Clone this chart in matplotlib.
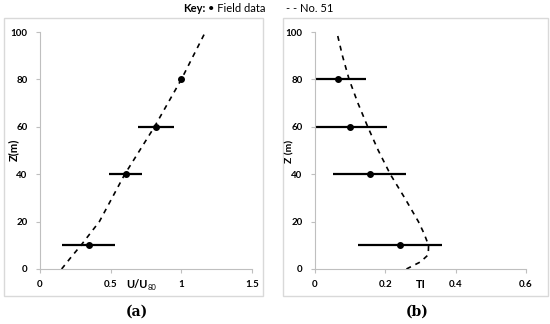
import matplotlib
matplotlib.use("Agg")
import matplotlib.pyplot as plt
from matplotlib.patches import Rectangle

# -------------------------------------------------------------------
# Data
# -------------------------------------------------------------------
# (a) normalised wind speed
z_field = [10, 40, 60, 80]
u_field = [0.344, 0.605, 0.82, 1.0]
u_err = [0.19, 0.12, 0.13, 0.0]

z_model = [0, 5, 10, 20, 30, 40, 50, 60, 70, 80, 90, 100]
u_model = [0.153, 0.22, 0.29, 0.42, 0.51, 0.60, 0.705, 0.81, 0.905, 1.0, 1.085, 1.17]

# (b) turbulence intensity
ti_field = [0.242, 0.155, 0.10, 0.066]
ti_err = [0.12, 0.105, 0.104, 0.078]

z_ti_model = [0, 3, 6, 10, 15, 20, 30, 40, 50, 60, 70, 80, 90, 100]
ti_model = [0.26, 0.30, 0.322, 0.323, 0.31, 0.294, 0.255, 0.214, 0.18, 0.150,
            0.122, 0.097, 0.078, 0.062]

yticks = [0, 20, 40, 60, 80, 100]
xticks_a = [0, 0.5, 1, 1.5]
xticks_b = [0, 0.2, 0.4, 0.6]
xticklabels_a = ["0", "0.5", "1", "1.5"]
xticklabels_b = ["0", "0.2", "0.4", "0.6"]

plt.rcParams['font.family'] = ['Lato', 'DejaVu Sans']

W, H = 550, 324
fig = plt.figure(figsize=(W / 100, H / 100), dpi=100)

grey = "#d9d9d9"
axis_grey = "#bfbfbf"

# chart area frames
for x0, x1 in [(4, 263), (283, 548)]:
    fig.patches.append(Rectangle((x0 / W, 1 - 296 / H), (x1 - x0) / W, (296 - 18) / H,
                                 transform=fig.transFigure, fill=False,
                                 edgecolor=grey, linewidth=1))


def style_axis(ax, xlim, xticks, xticklabels):
    ax.set_xlim(xlim)
    ax.set_ylim(0, 100)
    ax.set_xticks(xticks)
    ax.set_xticklabels(xticklabels)
    ax.set_yticks(yticks)
    for s in ["top", "right"]:
        ax.spines[s].set_visible(False)
    for s in ["left", "bottom"]:
        ax.spines[s].set_color(axis_grey)
        ax.spines[s].set_linewidth(0.8)
    ax.tick_params(axis="both", colors=axis_grey, labelcolor="black",
                   labelsize=7, length=3, width=0.8)
    ax.tick_params(axis="x", pad=5)
    ax.tick_params(axis="y", pad=6)
    for lab in ax.get_xticklabels() + ax.get_yticklabels():
        lab.set_fontweight("bold")


# ---------------- (a) ----------------
ax1 = fig.add_axes([40 / W, 1 - 269 / H, 212 / W, 237 / H])
ax1.plot(u_model, z_model, color="black", linestyle=(0, (3, 3)), linewidth=1.2)
ax1.errorbar(u_field, z_field, xerr=u_err, fmt="o", color="black",
             markersize=4, elinewidth=1.6, capsize=0)
style_axis(ax1, (0, 1.5), xticks_a, xticklabels_a)

# ---------------- (b) ----------------
ax2 = fig.add_axes([315 / W, 1 - 269 / H, 211 / W, 237 / H])
ax2.plot(ti_model, z_ti_model, color="black", linestyle=(0, (3, 3)), linewidth=1.2)
ax2.errorbar(ti_field, z_field, xerr=ti_err, fmt="o", color="black",
             markersize=4, elinewidth=1.6, capsize=0)
style_axis(ax2, (0, 0.6), xticks_b, xticklabels_b)

# axis titles
fig.text(13 / W, 1 - 150 / H, "Z(m)", rotation=90, ha="center", va="center",
         fontsize=8, fontweight="bold")
fig.text(290 / W, 1 - 151 / H, "Z (m)", rotation=90, ha="center", va="center",
         fontsize=7.5, fontweight="bold")
fig.text(148 / W, 1 - 284 / H, "U/U", ha="right", va="center",
         fontsize=8, fontweight="bold")
fig.text(148 / W, 1 - 288 / H, "80", ha="left", va="center", fontsize=5.5)
fig.text(421 / W, 1 - 284 / H, "TI", ha="center", va="center",
         fontsize=8, fontweight="bold")

# panel letters
fig.text(137 / W, 1 - 312 / H, "(a)", ha="center", va="center", fontsize=10,
         family="DejaVu Serif", fontweight="bold")
fig.text(417 / W, 1 - 312 / H, "(b)", ha="center", va="center", fontsize=10,
         family="DejaVu Serif", fontweight="bold")

# key
fig.text(205 / W, 1 - 9 / H, "Key:", ha="right", va="center", fontsize=8,
         fontweight="bold")
fig.text(208 / W, 1 - 9 / H, "\u2022 Field data", ha="left", va="center", fontsize=8)
fig.text(286 / W, 1 - 9 / H, "- - No. 51", ha="left", va="center", fontsize=8)

fig.savefig("out.png", dpi=100)
